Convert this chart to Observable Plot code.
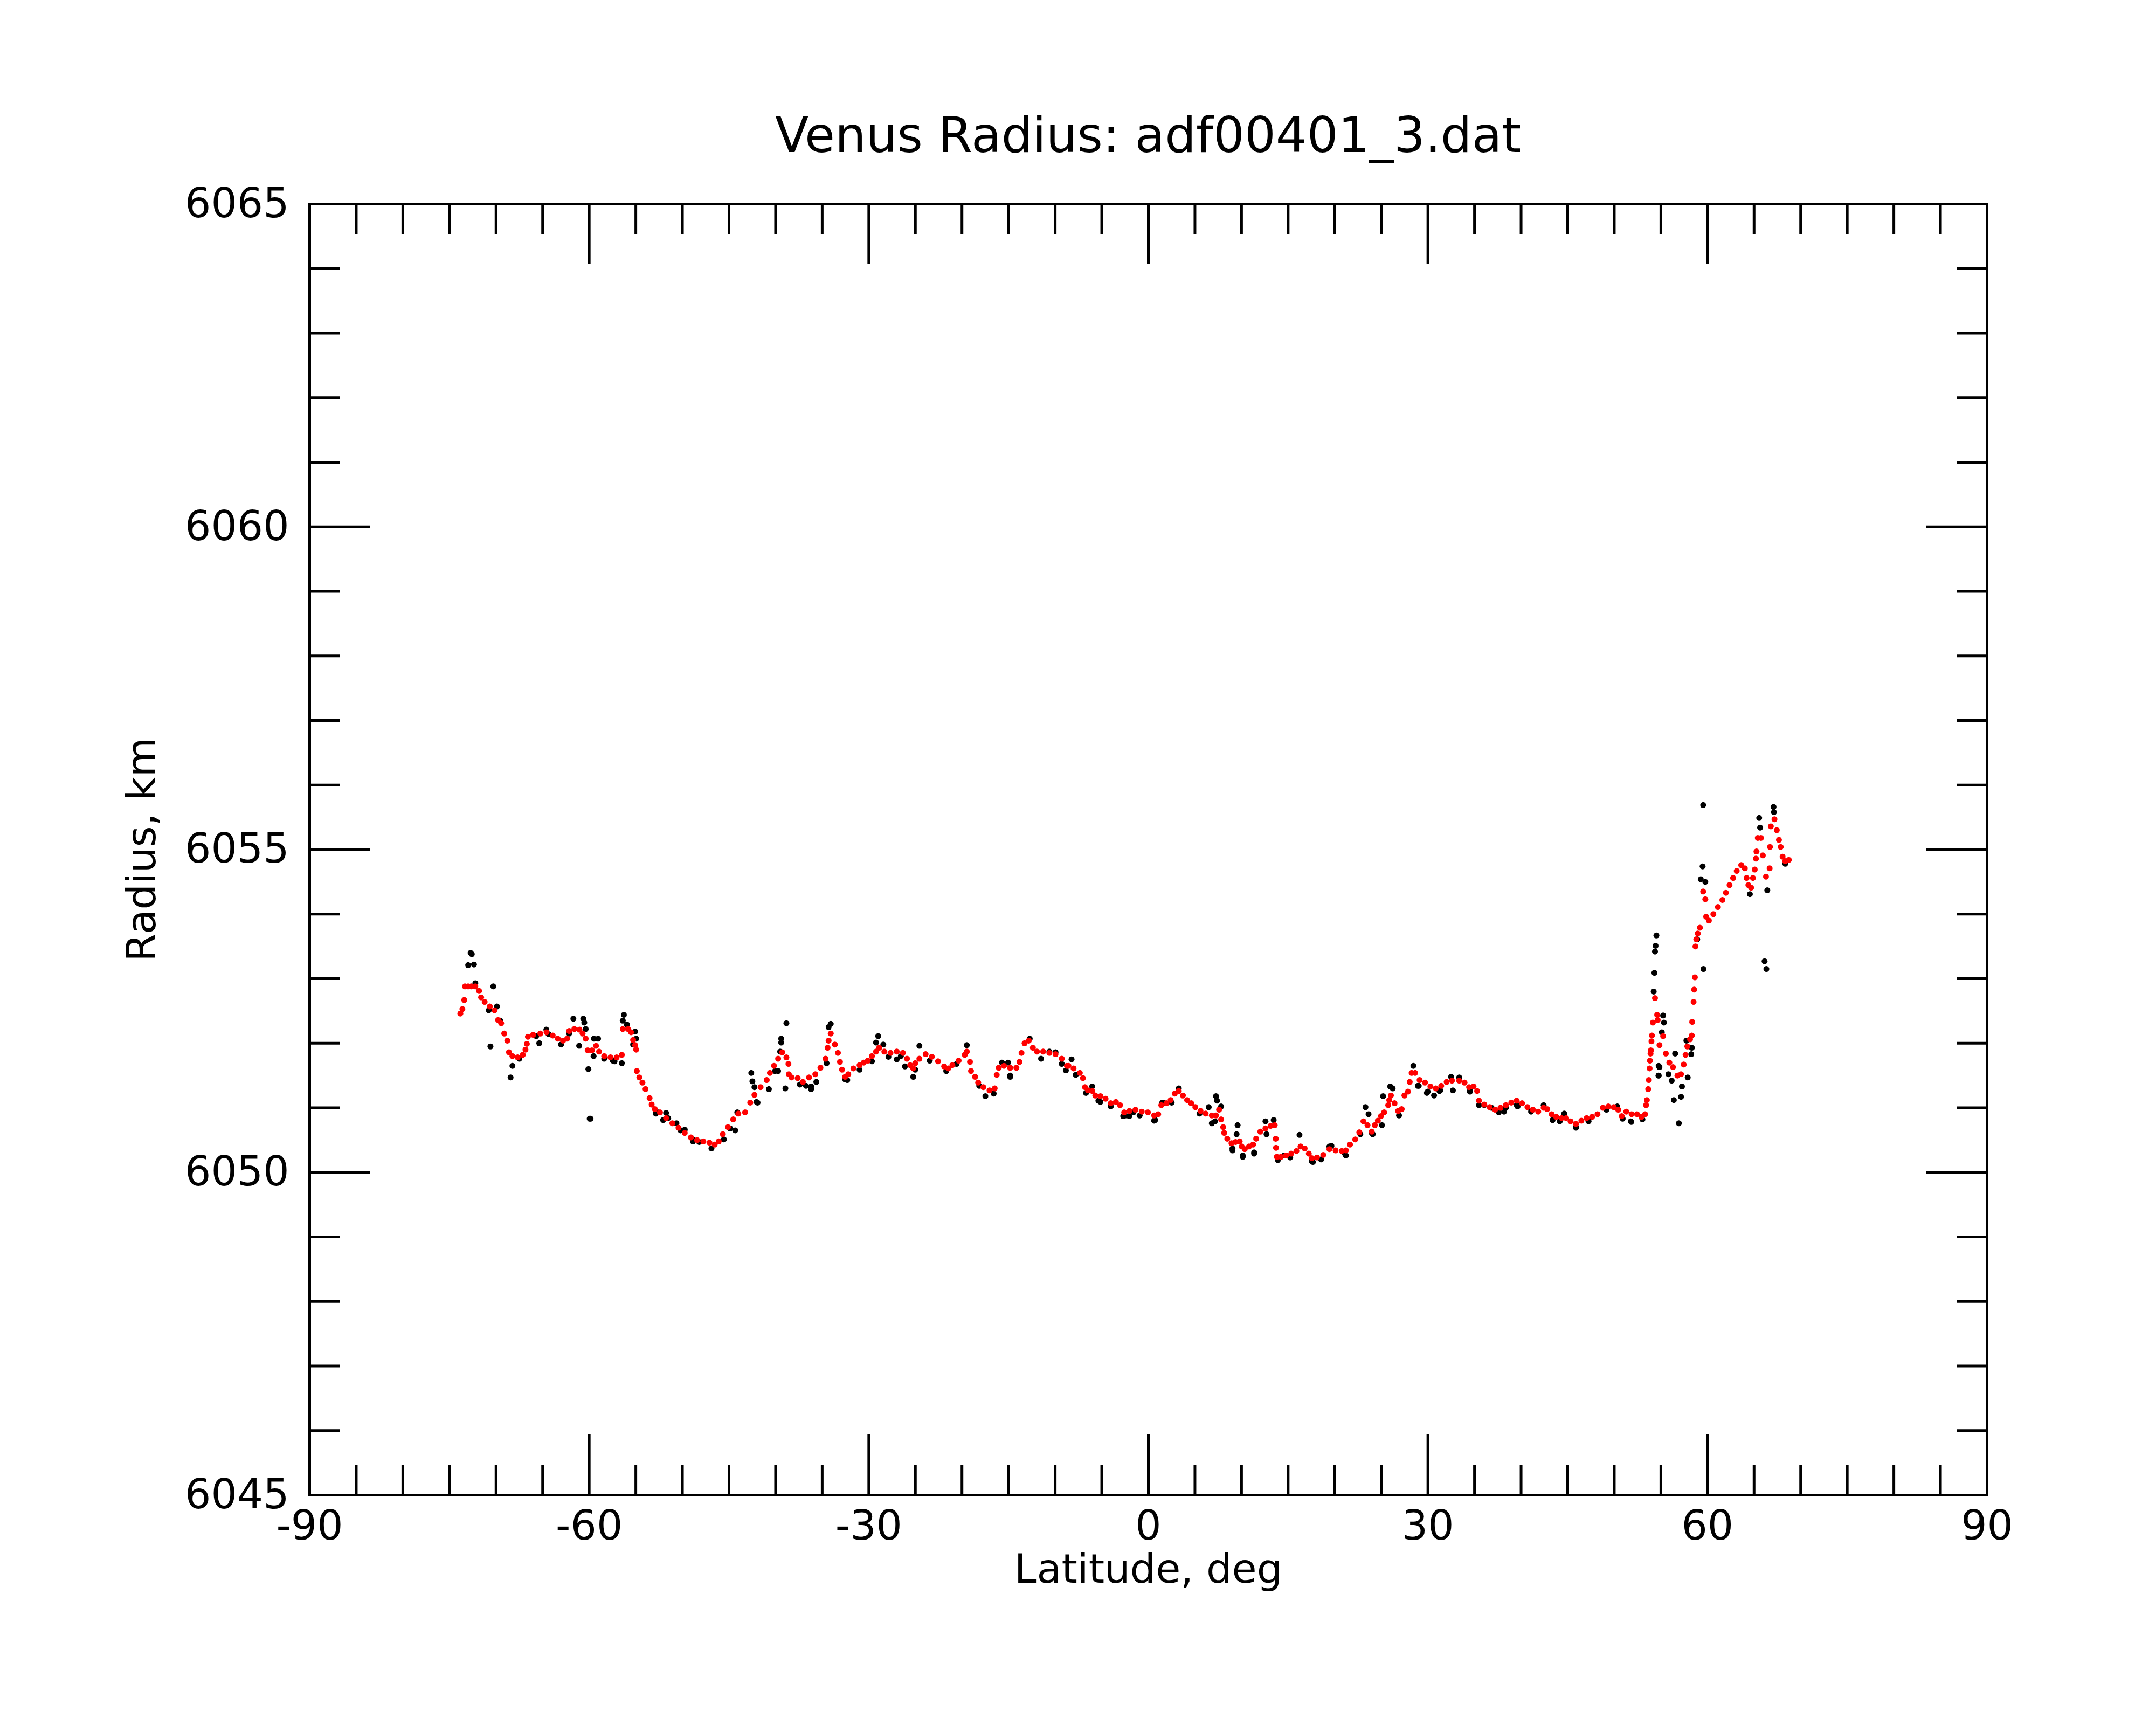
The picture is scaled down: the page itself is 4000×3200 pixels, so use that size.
<!DOCTYPE html>
<html>
<head>
<meta charset="utf-8">
<script src="https://cdn.jsdelivr.net/npm/d3@7"></script>
<script src="https://cdn.jsdelivr.net/npm/@observablehq/plot@0.6"></script>
<style>
  body { margin: 0; background: #fff; }
  #title { position: relative; width: 4000px; height: 300px; font-family: "DejaVu Sans"; }
  #title span { position: absolute; left: 574px; width: 3112px; top: 205px; text-align: center;
    font-size: 91px; line-height: 91px; white-space: nowrap; color: #000; }
</style>
</head>
<body>
<div id="title"><span>Venus Radius: adf00401_3.dat</span></div>
<div id="chart"></div>
<script>
const titleText = "Venus Radius: adf00401_3.dat";
const xLabel = "Latitude, deg";
const yLabel = "Radius, km";

const xMajor = [-90, -60, -30, 0, 30, 60, 90];
const xTickLabels = ["-90", "-60", "-30", "0", "30", "60", "90"];
const xMinor = [-85, -80, -75, -70, -65, -55, -50, -45, -40, -35, -25, -20, -15, -10, -5,
                5, 10, 15, 20, 25, 35, 40, 45, 50, 55, 65, 70, 75, 80, 85];
const yMajor = [6045, 6050, 6055, 6060, 6065];
const yTickLabels = ["6045", "6050", "6055", "6060", "6065"];
const yMinor = [6046, 6047, 6048, 6049, 6051, 6052, 6053, 6054, 6056, 6057, 6058, 6059,
                6061, 6062, 6063, 6064];

// smoothed (red) profile: latitude, radius
const redLat = [
 -73.83,-73.61,-73.41,-73.33,-72.99,-72.66,-72.22,-71.82,-71.60,-71.22,-70.67,-70.16,-69.78,-69.45,-69.12,-68.79,-68.61,-68.24,-67.68,-67.13,
 -66.84,-66.69,-66.58,-66.02,-65.25,-64.58,-63.92,-63.37,-62.81,-62.37,-62.15,-61.60,-61.04,-60.71,-60.38,-60.16,-59.71,-59.27,-58.94,-58.39,
 -57.72,-57.06,-56.50,-56.40,-55.84,-55.51,-55.29,-55.07,-54.96,-54.89,-54.62,-54.29,-53.96,-53.52,-53.30,-52.96,-52.41,-51.75,-51.08,-50.42,
 -49.75,-49.09,-48.43,-47.76,-47.10,-46.54,-46.10,-45.66,-45.11,-44.55,-44.00,-43.27,-42.72,-42.27,-41.61,-40.95,-40.61,-40.17,-39.73,-39.29,
 -38.84,-38.62,-38.58,-38.29,-37.63,-37.07,-36.41,-35.74,-35.19,-34.64,-34.42,-34.31,-34.08,-33.64,-33.31,-33.09,-32.87,-32.54,-32.20,-31.65,
 -30.99,-30.54,-30.10,-29.66,-29.22,-28.88,-28.33,-27.67,-27.00,-26.34,-25.90,-25.56,-25.23,-25.01,-24.57,-23.90,-23.24,-22.57,-21.91,-21.47,
 -21.03,-20.36,-19.70,-19.48,-19.14,-19.03,-18.59,-18.26,-17.71,-17.04,-16.49,-16.27,-16.05,-15.49,-14.83,-14.16,-13.83,-13.61,-13.28,-12.83,
 -12.39,-11.95,-11.29,-10.62,-9.96,-9.29,-8.74,-8.57,-8.02,-7.35,-7.02,-6.80,-6.47,-6.02,-5.69,-5.14,-4.59,-4.03,-3.48,-3.04,
 -2.59,-2.04,-1.38,-0.71,-0.05,0.62,1.06,1.39,1.94,2.39,2.83,3.27,3.71,4.16,4.60,5.04,5.60,6.15,6.81,7.26,
 7.59,7.81,8.03,8.14,8.47,8.92,9.36,9.80,10.02,10.35,10.80,11.24,11.57,12.02,12.57,13.12,13.56,13.67,13.70,13.79,
 14.23,14.78,15.33,15.89,16.33,16.77,17.22,17.55,18.10,18.77,19.43,20.09,20.76,21.20,21.64,22.20,22.64,23.08,23.52,23.97,
 24.30,24.63,24.96,25.30,25.74,25.85,26.03,26.42,26.80,27.19,27.48,27.86,28.05,28.25,28.63,29.11,29.69,30.27,30.85,31.43,
 32.01,32.58,33.36,33.93,34.42,34.90,35.28,35.48,36.05,36.63,37.21,37.79,38.37,38.95,39.53,40.10,40.68,41.26,41.84,42.42,
 42.80,43.28,43.77,44.35,44.83,45.31,45.89,46.47,47.04,47.62,48.20,48.78,49.36,49.94,50.42,50.80,51.29,51.86,52.44,52.92,
 53.31,53.41,53.50,53.64,53.71,53.79,53.83,53.89,53.93,53.99,54.04,54.14,54.37,54.60,54.66,54.85,55.24,55.53,55.91,56.30,
 56.78,57.16,57.45,57.65,57.84,58.13,58.32,58.36,58.51,58.57,58.65,58.71,58.80,58.96,59.19,59.54,59.77,59.86,60.15,60.63,
 61.12,61.60,61.98,62.37,62.75,63.14,63.62,64.01,64.20,64.39,64.68,64.88,65.07,65.20,65.26,65.40,65.74,65.94,66.28,66.67,
 66.71,66.80,67.19,67.44,67.67,67.86,68.06,68.35,68.73
];
const redR = [
 6052.46,6052.53,6052.67,6052.88,6052.88,6052.88,6052.88,6052.81,6052.71,6052.64,6052.57,6052.51,6052.36,6052.31,6052.15,6052.04,6051.86,6051.80,6051.78,6051.82,
 6051.90,6051.99,6052.10,6052.13,6052.15,6052.17,6052.12,6052.07,6052.04,6052.07,6052.19,6052.22,6052.21,6052.15,6052.07,6051.89,6051.89,6051.96,6051.87,6051.80,
 6051.78,6051.78,6051.82,6052.22,6052.22,6052.17,6052.05,6051.97,6051.90,6051.57,6051.47,6051.39,6051.29,6051.15,6051.05,6050.98,6050.93,6050.84,6050.76,6050.69,
 6050.61,6050.54,6050.50,6050.48,6050.46,6050.43,6050.48,6050.59,6050.70,6050.82,6050.91,6050.93,6051.08,6051.20,6051.32,6051.43,6051.54,6051.65,6051.76,6051.86,
 6051.78,6051.68,6051.52,6051.47,6051.46,6051.40,6051.47,6051.52,6051.62,6051.76,6051.93,6052.04,6052.15,6051.98,6051.85,6051.71,6051.59,6051.48,6051.52,6051.61,
 6051.66,6051.70,6051.73,6051.80,6051.87,6051.93,6051.87,6051.85,6051.87,6051.85,6051.76,6051.66,6051.61,6051.69,6051.76,6051.83,6051.79,6051.72,6051.64,6051.61,
 6051.66,6051.73,6051.82,6051.87,6051.71,6051.57,6051.48,6051.39,6051.32,6051.27,6051.30,6051.51,6051.62,6051.65,6051.62,6051.62,6051.71,6051.85,6052.00,6052.04,
 6051.93,6051.87,6051.87,6051.85,6051.83,6051.76,6051.65,6051.65,6051.61,6051.54,6051.46,6051.32,6051.27,6051.26,6051.19,6051.18,6051.14,6051.07,6051.09,6051.04,
 6050.93,6050.95,6050.97,6050.94,6050.93,6050.88,6050.90,6051.04,6051.07,6051.12,6051.22,6051.26,6051.19,6051.12,6051.07,6051.01,6050.95,6050.91,6050.88,6050.88,
 6050.97,6050.82,6050.70,6050.61,6050.52,6050.45,6050.47,6050.48,6050.40,6050.36,6050.40,6050.43,6050.52,6050.63,6050.68,6050.72,6050.73,6050.52,6050.38,6050.24,
 6050.24,6050.26,6050.29,6050.33,6050.40,6050.37,6050.29,6050.22,6050.23,6050.27,6050.36,6050.34,6050.33,6050.34,6050.43,6050.51,6050.62,6050.79,6050.73,6050.63,
 6050.73,6050.80,6050.87,6050.93,6051.04,6051.12,6051.19,6051.07,6050.95,6050.98,6051.19,6051.25,6051.40,6051.54,6051.54,6051.43,6051.39,6051.33,6051.30,6051.34,
 6051.40,6051.42,6051.42,6051.39,6051.32,6051.33,6051.26,6051.11,6051.05,6051.01,6050.97,6051.00,6051.04,6051.08,6051.11,6051.07,6051.01,6050.97,6050.94,6051.00,
 6050.98,6050.90,6050.86,6050.84,6050.84,6050.79,6050.75,6050.80,6050.84,6050.86,6050.90,6051.00,6051.02,6051.01,6050.97,6050.87,6050.94,6050.90,6050.90,6050.86,
 6050.90,6051.04,6051.12,6051.29,6051.43,6051.61,6051.73,6051.84,6051.89,6052.03,6052.12,6052.32,6052.70,6052.44,6052.36,6051.97,6052.11,6051.84,6051.70,6051.63,
 6051.50,6051.52,6051.67,6051.82,6051.95,6052.06,6052.12,6052.33,6052.64,6052.83,6053.02,6053.50,6053.61,6053.70,6053.79,6054.35,6054.23,6053.96,6053.90,6054.00,
 6054.11,6054.22,6054.33,6054.45,6054.56,6054.67,6054.76,6054.71,6054.56,6054.45,6054.41,6054.56,6054.69,6054.86,6054.97,6055.18,6055.18,6054.91,6054.58,6054.71,
 6055.04,6055.36,6055.47,6055.30,6055.15,6055.04,6054.89,6054.82,6054.84
];

// raw (black) measurements: latitude, radius
const blackLat = [
 -72.73,-72.60,-72.99,-72.37,-72.22,-70.29,-69.90,-70.78,-69.56,-70.60,-68.24,-68.44,-67.50,-65.36,-64.60,-61.70,-60.64,-60.53,-60.38,-61.08,
 -59.50,-59.05,-59.53,-60.09,-59.95,-59.85,-56.50,-57.46,-56.28,-56.40,-55.95,-55.07,-54.96,-55.29,-52.85,-52.07,-51.75,-50.64,-49.75,-48.87,
 -46.88,-44.33,-44.11,-42.61,-42.49,-42.27,-41.94,-38.84,-39.40,-39.40,-39.51,-38.95,-39.73,-36.19,-36.19,-35.63,-34.53,-34.08,-34.31,-32.54,
 -28.99,-29.22,-28.44,-27.00,-25.23,-26.12,-24.57,-19.48,-17.49,-16.60,-15.71,-15.05,-14.83,-12.73,-10.62,-9.96,-8.85,-8.24,-7.79,-6.02,
 -5.36,-4.03,-2.48,-1.60,0.73,1.50,3.27,6.48,7.26,7.37,7.81,7.15,9.58,9.47,9.03,10.13,11.35,12.57,13.45,12.68,
 16.22,17.55,19.65,21.09,23.30,23.63,23.97,25.19,25.07,25.96,26.22,28.44,29.02,29.98,30.66,31.33,32.49,32.68,33.36,34.51,
 35.48,37.60,38.17,39.62,42.42,44.15,44.63,45.89,50.32,51.77,54.76,54.76,59.54,59.48,59.28,59.77,59.57,58.90,54.52,54.43,
 54.37,54.31,54.23,55.24,55.33,55.10,54.85,54.75,56.53,55.81,56.16,56.39,56.93,57.16,57.26,57.88,57.74,58.32,58.26,51.82,
 65.55,65.65,67.09,67.13,66.13,66.32,66.42,64.55,68.35,
 -6.69,-5.14,-2.70,-2.04,-0.93,0.62,1.72,2.50,5.49,6.81,9.03,10.13,11.35,13.90,14.56,15.22,17.66,18.54,19.43,21.20,
 22.75,24.08,-42.05,-40.72,-40.06,-37.40,-36.74,-32.31,-30.99,-29.66,-27.89,-26.56,-25.01,-23.46,-21.69,-20.58,-18.15,-14.83,-11.51,-9.29,
 -65.69,-64.36,-63.03,-62.15,-58.39,-57.28,-52.85,-51.53,-50.20,-48.87,-48.20,-45.55,-44.88,26.90,28.92,29.89,31.24,34.51,36.05,36.83,
 38.37,39.53,41.07,43.38,45.89,47.24,49.16,50.90,53.02
];
const blackR = [
 6053.40,6053.38,6053.21,6053.22,6052.93,6052.88,6052.57,6052.51,6052.35,6051.95,6051.65,6051.47,6051.76,6052.00,6052.21,6052.38,6052.38,6052.32,6052.22,6051.96,
 6052.07,6052.07,6051.80,6051.60,6050.83,6050.83,6051.69,6051.73,6052.44,6052.35,6052.29,6052.18,6052.07,6051.98,6050.91,6050.81,6050.92,6050.76,6050.66,6050.48,
 6050.37,6050.65,6050.93,6051.54,6051.41,6051.32,6051.08,6052.31,6052.07,6052.01,6051.87,6051.30,6051.57,6051.29,6051.33,6051.40,6051.69,6052.30,6052.25,6051.44,
 6052.11,6052.01,6051.98,6051.75,6051.48,6051.64,6051.96,6051.97,6051.18,6051.22,6051.70,6051.70,6051.48,6052.07,6051.87,6051.86,6051.58,6051.75,6051.51,6051.33,
 6051.11,6051.02,6050.88,6050.93,6050.81,6051.08,6051.30,6051.01,6051.18,6051.11,6051.02,6050.79,6050.73,6050.59,6050.37,6050.26,6050.31,6050.79,6050.81,6050.59,
 6050.58,6050.17,6050.41,6050.29,6051.01,6050.90,6050.61,6051.18,6050.73,6051.33,6051.30,6051.65,6051.34,6051.25,6051.19,6051.27,6051.48,6051.27,6051.47,6051.25,
 6051.04,6050.93,6050.94,6051.02,6051.04,6050.79,6050.91,6050.69,6051.02,6050.79,6051.65,6051.50,6055.69,6054.74,6054.54,6054.50,6053.15,6053.61,6053.67,6053.51,
 6053.42,6053.09,6052.80,6052.43,6052.32,6052.17,6051.63,6051.50,6051.84,6051.52,6051.42,6051.12,6050.76,6051.17,6051.33,6051.47,6052.04,6051.93,6051.83,6050.78,
 6055.49,6055.34,6055.66,6055.58,6053.27,6053.15,6054.37,6054.31,6054.78,
 6051.23,6051.09,6050.87,6050.87,6050.88,6050.80,6051.07,6051.08,6050.91,6050.76,6050.34,6050.24,6050.29,6050.19,6050.26,6050.23,6050.16,6050.20,6050.40,6050.26,
 6050.59,6050.59,6051.09,6051.29,6051.57,6051.36,6051.34,6051.43,6051.59,6051.72,6051.79,6051.80,6051.59,6051.73,6051.57,6051.68,6051.34,6051.50,6051.76,6051.68,
 6052.11,6052.14,6051.98,6052.15,6051.76,6051.72,6050.95,6050.84,6050.65,6050.51,6050.47,6050.51,6050.68,6050.88,6051.34,6051.23,6051.26,6051.26,6051.04,6051.00,
 6051.00,6051.04,6050.94,6050.81,6050.70,6050.79,6050.97,6050.83,6050.82
];

const red = redLat.map((lat, i) => ({lat, r: redR[i]}));
const black = blackLat.map((lat, i) => ({lat, r: blackR[i]}));

const W = 4000, H = 2900;
const mL = 574, mR = 314, mT = 78, mB = 427;
const innerW = W - mL - mR;
const innerH = H - mT - mB;
const majorLen = 112, minorLen = 56, sw = 5;
const fs = 76;

const chart = Plot.plot({
  width: W,
  height: H,
  marginLeft: mL,
  marginRight: mR,
  marginTop: mT,
  marginBottom: mB,
  style: {fontFamily: "DejaVu Sans", fontSize: fs + "px", background: "white", color: "black"},
  x: {domain: [-90, 90], axis: null},
  y: {domain: [6045, 6065], axis: null},
  marks: [
    // bottom ticks
    Plot.ruleX(xMinor, {x: d => d, insetTop: innerH - minorLen, strokeWidth: sw, stroke: "black"}),
    Plot.ruleX(xMajor, {x: d => d, insetTop: innerH - majorLen, strokeWidth: sw, stroke: "black"}),
    // top ticks
    Plot.ruleX(xMinor, {x: d => d, insetBottom: innerH - minorLen, strokeWidth: sw, stroke: "black"}),
    Plot.ruleX(xMajor, {x: d => d, insetBottom: innerH - majorLen, strokeWidth: sw, stroke: "black"}),
    // left ticks
    Plot.ruleY(yMinor, {y: d => d, insetRight: innerW - minorLen, strokeWidth: sw, stroke: "black"}),
    Plot.ruleY(yMajor, {y: d => d, insetRight: innerW - majorLen, strokeWidth: sw, stroke: "black"}),
    // right ticks
    Plot.ruleY(yMinor, {y: d => d, insetLeft: innerW - minorLen, strokeWidth: sw, stroke: "black"}),
    Plot.ruleY(yMajor, {y: d => d, insetLeft: innerW - majorLen, strokeWidth: sw, stroke: "black"}),
    Plot.frame({stroke: "black", strokeWidth: sw}),
    // tick labels
    Plot.text(xMajor, {x: d => d, text: (d, i) => xTickLabels[i], frameAnchor: "bottom", lineAnchor: "bottom",
      dy: 82, fontSize: fs, fill: "black"}),
    Plot.text(yMajor, {y: d => d, text: (d, i) => yTickLabels[i], frameAnchor: "left", textAnchor: "end",
      lineAnchor: "middle", dx: -38, fontSize: fs, fill: "black"}),
    // axis labels
    Plot.text([xLabel], {text: d => d, frameAnchor: "bottom", textAnchor: "middle", lineAnchor: "bottom", dy: 162, fontSize: 75, fill: "black"}),
    Plot.text([yLabel], {text: d => d, frameAnchor: "left", textAnchor: "middle", lineAnchor: "middle", rotate: -90, dx: -311, fontSize: 75, fill: "black"}),
    // data
    Plot.dot(black, {x: "lat", y: "r", r: 5.5, fill: "black", stroke: null}),
    Plot.dot(red, {x: "lat", y: "r", r: 5.5, fill: "#ff0000", stroke: null})
  ]
});
document.getElementById("chart").appendChild(chart);
</script>
</body>
</html>
